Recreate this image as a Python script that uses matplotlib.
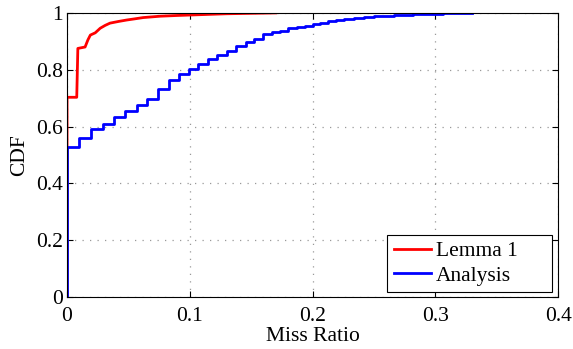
import matplotlib
matplotlib.use("Agg")
import matplotlib.pyplot as plt

plt.rcParams['font.family'] = ['Liberation Serif', 'DejaVu Serif']

# Lemma 1 CDF (red)
lemma_x = [0.0, 0.0, 0.0079, 0.0088, 0.0147, 0.0170, 0.0190, 0.0230, 0.027, 0.031, 0.035,
           0.042, 0.0486, 0.055, 0.062, 0.0758, 0.090, 0.103, 0.130, 0.170]
lemma_y = [0.0, 0.703, 0.703, 0.875, 0.880, 0.905, 0.922, 0.930, 0.946, 0.956, 0.964,
           0.970, 0.975, 0.979, 0.9836, 0.9884, 0.991, 0.993, 0.997, 1.0]

# Analysis CDF (blue, step function)
analysis_x = [0.0, 0.0, 0.0098, 0.0196, 0.029, 0.038, 0.047, 0.057, 0.065, 0.074, 0.083,
              0.091, 0.099, 0.107, 0.115, 0.122, 0.130, 0.138, 0.1456, 0.1526, 0.160,
              0.1667, 0.1735, 0.180, 0.187, 0.194, 0.200, 0.206, 0.2125, 0.219, 0.226,
              0.234, 0.242, 0.250, 0.258, 0.266, 0.274, 0.282, 0.290, 0.298, 0.306,
              0.314, 0.323, 0.330]
analysis_y = [0.0, 0.527, 0.559, 0.590, 0.609, 0.635, 0.655, 0.675, 0.698, 0.731, 0.764,
              0.785, 0.803, 0.819, 0.838, 0.852, 0.866, 0.884, 0.896, 0.907, 0.926,
              0.934, 0.937, 0.946, 0.950, 0.955, 0.961, 0.966, 0.970, 0.975, 0.979,
              0.982, 0.985, 0.988, 0.990, 0.992, 0.994, 0.995, 0.996, 0.997, 0.998,
              0.999, 1.0, 1.0]

x_ticks = [0, 0.1, 0.2, 0.3, 0.4]
x_labels = ["0", "0.1", "0.2", "0.3", "0.4"]
y_ticks = [0, 0.2, 0.4, 0.6, 0.8, 1.0]
y_labels = ["0", "0.2", "0.4", "0.6", "0.8", "1"]

FS = 15.5

fig = plt.figure(figsize=(5.73, 3.49), dpi=100)
ax = fig.add_axes([0.117, 0.149, 0.857, 0.814])

ax.plot(lemma_x, lemma_y, color='#ff0000', lw=2, label='Lemma 1')
ax.plot(analysis_x, analysis_y, color='#0000ff', lw=2, drawstyle='steps-post', label='Analysis')

ax.set_xlim(0, 0.4)
ax.set_ylim(0, 1)
ax.set_xticks(x_ticks)
ax.set_xticklabels(x_labels)
ax.set_yticks(y_ticks)
ax.set_yticklabels(y_labels)
ax.tick_params(direction='in', labelsize=FS, length=4, top=True, right=True)
ax.tick_params(axis='x', pad=7)
ax.tick_params(axis='y', pad=3)
ax.grid(True, linestyle=(0, (1, 5)), color='#999999', lw=0.9)
ax.set_xlabel('Miss Ratio', fontsize=FS, labelpad=1)
ax.set_ylabel('CDF', fontsize=FS, labelpad=5)
for s in ax.spines.values():
    s.set_linewidth(0.8)

leg = ax.legend(loc='lower left', bbox_to_anchor=(0.652, 0.0176, 0.336, 0.2),
                mode='expand', borderaxespad=0, fontsize=FS, fancybox=False,
                edgecolor='black', framealpha=1, handlelength=1.75, handletextpad=0.2,
                borderpad=0.3, labelspacing=0.2)
leg.get_frame().set_linewidth(0.8)

fig.savefig('out.png', dpi=100)
